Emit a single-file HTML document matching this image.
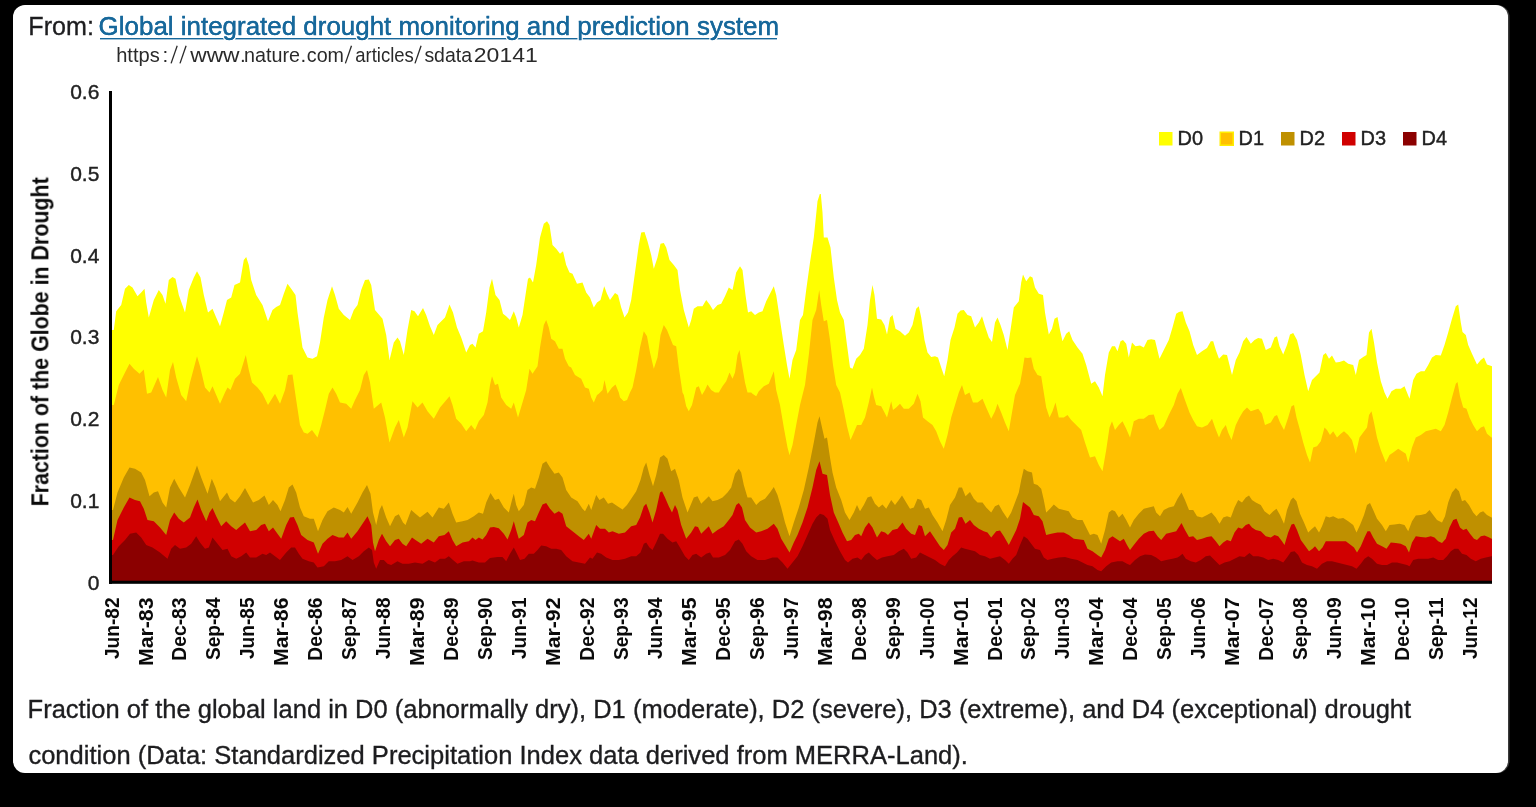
<!DOCTYPE html>
<html><head><meta charset="utf-8"><title>Drought</title>
<style>
html,body{margin:0;padding:0;background:#000;}
body{width:1536px;height:807px;position:relative;overflow:hidden;font-family:"Liberation Sans",sans-serif;}
.card{position:absolute;left:13px;top:5px;width:1494.5px;height:768px;background:#fff;border-radius:12px;box-shadow:1.5px 0 0 #3a3a3a;}
svg{position:absolute;left:0;top:0;will-change:transform;}
text{font-family:"Liberation Sans",sans-serif;}
.t{font-size:26px;fill:#1d1d1f;stroke:#1d1d1f;stroke-width:0.35px;}
.ta{font-size:26px;fill:#17689b;}
.u{font-size:20.5px;fill:#2a2a2a;}
.c{font-size:26px;fill:#1d1d1f;stroke:#1d1d1f;stroke-width:0.35px;}
.xl{font-weight:bold;font-size:20px;fill:#0a0a0a;}
.yl{font-size:21px;fill:#222;stroke:#222;stroke-width:0.4px;}
.lg{font-size:20px;fill:#222;stroke:#222;stroke-width:0.4px;}
.yt{font-weight:bold;font-size:23px;fill:#0a0a0a;}
</style></head><body>
<div class="card"></div>
<svg width="1536" height="807" viewBox="0 0 1536 807">
<text x="28.3" y="34.6" textLength="65.6" lengthAdjust="spacingAndGlyphs" class="t">From:</text>
<rect x="100" y="38" width="677" height="1.4" fill="#17689b"/>
<text x="98.6" y="34.6" textLength="680.5" lengthAdjust="spacingAndGlyphs" class="ta" style="paint-order:stroke fill;stroke:#fff;stroke-width:3px;stroke-linejoin:round">Global integrated drought monitoring and prediction system</text>
<text x="98.6" y="34.6" textLength="680.5" lengthAdjust="spacingAndGlyphs" class="ta" style="stroke:#17689b;stroke-width:0.35px">Global integrated drought monitoring and prediction system</text>
<text x="116.2" y="61.5" class="u" textLength="43.6" lengthAdjust="spacingAndGlyphs">https</text><text x="162.6" y="61.5" class="u">:</text><text x="190.2" y="61.5" class="u" textLength="49.4" lengthAdjust="spacingAndGlyphs">www</text><text x="240.0" y="61.5" class="u">.</text><text x="244.0" y="61.5" class="u" textLength="56" lengthAdjust="spacingAndGlyphs">nature</text><text x="300.4" y="61.5" class="u">.</text><text x="306.8" y="61.5" class="u" textLength="37.2" lengthAdjust="spacingAndGlyphs">com</text><text x="355.2" y="61.5" class="u" textLength="58.6" lengthAdjust="spacingAndGlyphs">articles</text><text x="424.4" y="61.5" class="u" textLength="47.6" lengthAdjust="spacingAndGlyphs">sdata</text><text x="473.8" y="61.5" class="u" textLength="64" lengthAdjust="spacingAndGlyphs">20141</text><line x1="171.10000000000002" y1="63.4" x2="177.20000000000002" y2="45.8" stroke="#2a2a2a" stroke-width="1.3"/><line x1="180.0" y1="63.4" x2="186.1" y2="45.8" stroke="#2a2a2a" stroke-width="1.3"/><line x1="345.40000000000003" y1="63.4" x2="351.5" y2="45.8" stroke="#2a2a2a" stroke-width="1.3"/><line x1="415.0" y1="63.4" x2="421.09999999999997" y2="45.8" stroke="#2a2a2a" stroke-width="1.3"/>
<g style="filter:blur(0.5px)">
<path d="M112.0,582.0 L112.0,330.0 L113.8,330.0 L116.2,311.2 L121.2,305.0 L125.0,288.8 L128.8,285.0 L132.5,287.5 L137.5,296.2 L141.2,292.5 L144.5,288.8 L146.2,302.5 L148.8,317.5 L153.8,300.0 L158.8,290.0 L162.5,295.0 L165.5,303.8 L168.8,280.0 L172.5,277.0 L175.5,278.8 L178.8,295.0 L185.0,312.5 L188.8,290.0 L193.8,277.5 L197.0,271.2 L200.5,277.5 L203.8,295.0 L208.0,312.5 L212.5,308.8 L216.2,317.5 L220.0,326.2 L223.8,312.5 L227.0,300.0 L231.2,297.5 L234.5,285.0 L240.0,282.5 L243.8,260.0 L246.2,257.0 L248.8,265.0 L251.2,280.0 L256.2,295.0 L262.5,305.0 L268.0,321.2 L272.5,310.0 L276.2,307.0 L280.0,305.0 L283.8,293.8 L287.5,283.8 L291.2,288.8 L295.5,295.0 L297.5,312.5 L300.0,330.0 L302.5,347.5 L307.5,357.5 L312.5,358.8 L317.0,356.2 L320.0,342.5 L323.8,317.5 L327.5,300.0 L332.0,286.2 L335.0,295.0 L338.8,308.8 L343.8,315.0 L350.0,320.0 L353.8,310.0 L357.5,305.0 L361.2,290.0 L365.0,280.0 L368.8,279.5 L371.2,285.0 L375.0,310.0 L382.5,318.8 L386.2,335.0 L389.5,360.0 L393.8,342.5 L397.5,337.5 L400.0,341.2 L403.8,355.0 L407.5,330.0 L411.2,310.0 L414.5,311.2 L418.0,316.2 L423.0,308.0 L426.2,315.0 L430.0,326.2 L433.8,335.0 L437.5,325.0 L445.0,317.5 L449.5,304.5 L453.0,312.5 L457.0,327.5 L461.2,337.5 L466.2,352.5 L470.0,345.0 L472.5,343.8 L475.5,347.5 L478.8,333.8 L483.0,331.2 L486.2,312.5 L489.5,287.5 L492.0,278.8 L495.5,295.0 L499.5,300.0 L503.0,313.8 L506.2,316.2 L510.0,320.0 L513.8,311.2 L516.2,317.5 L518.8,327.5 L522.5,315.0 L525.5,295.0 L528.0,278.8 L530.0,277.5 L533.0,282.5 L536.2,265.0 L540.0,237.5 L543.8,223.8 L547.0,221.2 L549.5,225.0 L552.5,245.0 L556.2,248.8 L560.0,253.8 L563.0,251.2 L566.2,265.0 L569.5,272.5 L572.5,273.8 L577.0,283.8 L582.5,282.5 L586.2,292.5 L590.0,297.5 L593.8,307.5 L597.0,302.5 L600.5,300.0 L604.2,286.2 L607.0,293.8 L610.0,300.0 L615.0,293.0 L618.0,295.0 L621.2,307.5 L624.5,317.5 L628.0,312.5 L631.2,300.0 L635.0,272.5 L638.8,245.0 L641.2,232.5 L644.5,232.0 L647.5,241.2 L651.2,255.0 L653.8,268.8 L657.5,257.5 L660.5,243.8 L663.8,243.0 L666.2,247.5 L669.5,260.0 L673.8,265.0 L677.5,270.0 L680.0,290.0 L683.8,310.0 L688.8,327.5 L691.2,320.0 L693.8,308.8 L697.5,306.2 L702.5,306.2 L706.2,300.0 L710.0,305.0 L713.0,310.0 L717.5,305.0 L721.2,303.8 L725.0,296.2 L728.8,287.5 L732.5,290.0 L736.2,272.5 L740.0,266.2 L742.5,270.0 L745.5,295.0 L748.0,312.5 L751.2,311.2 L755.0,315.0 L758.8,312.5 L762.5,311.2 L766.2,301.2 L770.0,293.8 L773.8,286.2 L776.2,295.0 L780.0,320.0 L783.8,345.0 L787.0,365.0 L789.5,378.8 L792.5,360.0 L796.2,350.0 L800.0,320.0 L803.0,315.0 L806.2,290.0 L810.0,262.5 L813.8,237.5 L817.5,201.2 L819.8,194.0 L820.8,194.0 L822.5,212.5 L823.8,237.5 L827.5,237.5 L830.5,247.5 L833.8,277.5 L837.0,300.0 L840.0,312.5 L843.8,320.0 L847.0,345.0 L850.0,367.5 L852.5,368.8 L856.2,358.8 L860.0,355.0 L863.8,348.8 L867.5,325.0 L870.0,300.0 L872.5,285.0 L874.5,295.0 L877.0,318.8 L881.2,319.5 L884.5,325.0 L887.0,334.5 L890.0,317.5 L892.5,315.0 L895.5,328.8 L900.0,331.2 L905.0,335.8 L908.8,332.5 L912.5,325.0 L916.2,308.8 L918.8,306.2 L921.2,317.5 L924.5,340.0 L927.5,352.5 L931.2,357.0 L935.0,356.2 L938.0,357.5 L941.2,367.5 L944.2,376.2 L947.5,360.0 L950.5,340.0 L954.5,327.5 L957.5,313.8 L960.5,310.5 L963.8,310.0 L967.5,315.0 L971.2,316.2 L975.0,327.5 L978.8,322.5 L982.0,316.2 L985.0,326.2 L988.8,337.5 L992.0,342.0 L995.0,322.5 L997.5,317.5 L1000.5,325.0 L1003.8,335.0 L1007.5,350.0 L1010.5,330.0 L1013.8,307.5 L1018.8,301.2 L1021.2,282.5 L1023.0,274.5 L1026.2,281.2 L1030.0,276.2 L1032.5,277.5 L1035.0,287.5 L1038.8,293.8 L1043.0,295.0 L1045.0,312.5 L1048.8,334.5 L1052.0,328.8 L1054.5,318.8 L1057.5,317.0 L1060.0,330.0 L1062.5,341.2 L1066.2,333.8 L1069.2,331.2 L1072.5,340.0 L1077.5,347.5 L1082.5,353.8 L1086.2,365.0 L1091.2,383.8 L1095.0,381.2 L1098.8,387.5 L1102.5,396.2 L1105.0,375.0 L1108.8,352.5 L1112.0,346.2 L1115.0,346.2 L1117.5,351.2 L1120.5,341.2 L1123.0,340.0 L1126.2,343.8 L1128.8,357.5 L1132.0,342.5 L1135.5,346.2 L1140.0,345.5 L1143.8,347.5 L1147.5,340.0 L1151.2,339.2 L1155.0,340.0 L1159.5,358.8 L1163.8,350.0 L1168.8,340.0 L1172.5,327.5 L1176.2,313.8 L1179.0,312.0 L1182.5,311.2 L1185.8,322.5 L1189.5,331.2 L1193.2,345.0 L1197.0,355.0 L1202.0,351.2 L1207.0,348.0 L1210.8,341.2 L1213.2,341.2 L1215.8,350.0 L1219.0,358.8 L1223.2,354.5 L1227.0,355.0 L1229.5,365.0 L1232.0,375.0 L1235.8,360.0 L1239.5,352.5 L1243.2,341.2 L1246.5,337.0 L1250.8,343.8 L1254.5,340.0 L1258.2,338.0 L1262.0,338.8 L1265.8,350.0 L1270.8,347.5 L1274.5,337.5 L1277.0,336.2 L1279.5,346.2 L1283.2,354.5 L1287.0,345.0 L1290.0,334.5 L1293.2,333.0 L1297.0,340.0 L1300.8,355.0 L1304.5,375.0 L1308.2,391.2 L1312.0,380.0 L1315.8,376.2 L1319.5,372.5 L1323.2,355.0 L1325.8,353.0 L1329.0,358.8 L1332.0,355.5 L1335.8,362.5 L1339.5,362.0 L1344.0,360.5 L1348.2,363.8 L1353.2,365.0 L1355.8,375.0 L1359.0,360.0 L1363.2,357.0 L1366.5,355.0 L1369.0,332.5 L1371.5,328.8 L1374.0,342.5 L1377.0,362.5 L1380.8,381.2 L1384.5,392.5 L1387.5,398.8 L1391.5,391.2 L1395.8,388.8 L1400.8,388.8 L1404.5,386.2 L1407.0,392.5 L1409.5,398.8 L1413.2,380.0 L1416.5,373.8 L1420.8,371.2 L1424.5,371.2 L1428.2,365.0 L1432.0,357.5 L1435.8,355.0 L1440.8,355.5 L1444.5,345.0 L1448.2,332.5 L1452.0,318.8 L1455.8,306.2 L1458.2,304.5 L1460.8,322.5 L1462.5,332.0 L1465.8,335.0 L1468.2,345.0 L1472.0,353.8 L1477.0,364.5 L1480.8,360.0 L1484.0,357.5 L1487.0,364.5 L1492.0,366.2 L1492.0,366.2 L1492.0,582.0 Z" fill="#ffff00"/>
<path d="M112.0,582.0 L112.0,405.0 L113.8,405.0 L118.8,385.0 L125.0,372.5 L129.5,363.8 L133.8,368.8 L139.5,373.8 L143.8,369.5 L147.0,393.8 L151.2,392.5 L158.0,377.0 L162.5,390.0 L166.2,397.5 L170.0,370.0 L173.0,362.0 L176.2,377.5 L181.2,395.0 L186.2,401.2 L190.0,382.5 L197.0,356.2 L200.0,366.2 L205.0,387.5 L209.5,392.5 L212.5,386.2 L216.2,395.0 L220.0,403.8 L225.0,392.5 L227.5,387.5 L230.5,390.0 L235.0,378.8 L240.0,373.8 L245.8,355.0 L248.8,370.0 L252.0,382.5 L257.5,387.5 L262.5,393.8 L268.0,405.0 L275.0,393.8 L280.0,403.8 L285.0,390.0 L288.0,375.0 L292.5,374.5 L296.2,400.0 L300.0,425.0 L303.8,432.5 L307.5,433.8 L312.0,430.0 L317.5,437.5 L321.2,425.0 L325.0,410.0 L328.8,393.8 L332.5,387.5 L336.2,393.8 L340.0,402.5 L346.2,403.8 L351.2,408.8 L355.0,400.0 L360.0,390.0 L363.8,375.0 L367.0,370.0 L370.0,382.5 L373.8,408.8 L381.2,402.5 L385.0,417.5 L389.5,442.5 L395.0,427.5 L398.8,420.0 L403.8,437.5 L407.5,427.5 L412.5,401.2 L417.5,407.5 L422.5,402.5 L427.5,411.2 L433.8,418.8 L440.0,407.5 L449.5,396.2 L452.5,405.0 L456.2,418.8 L461.2,423.8 L466.2,431.2 L471.2,425.0 L475.0,430.0 L478.8,421.2 L483.8,415.0 L487.5,402.5 L490.0,385.0 L492.0,376.2 L495.0,385.0 L498.0,383.8 L501.2,397.5 L506.2,405.0 L511.2,408.8 L513.8,402.5 L518.0,417.5 L522.5,402.5 L526.2,390.0 L529.5,368.8 L532.5,373.8 L537.5,366.2 L540.0,347.5 L543.8,325.0 L546.2,320.0 L548.8,327.5 L551.2,338.8 L555.0,341.2 L558.8,348.8 L562.5,348.8 L565.0,358.8 L568.8,366.2 L571.2,367.5 L575.0,375.0 L581.2,378.8 L585.0,387.5 L588.8,388.8 L591.2,397.5 L593.8,402.5 L597.0,395.0 L598.8,393.8 L602.5,390.0 L604.5,380.0 L607.5,393.8 L612.0,387.5 L615.5,384.5 L618.8,392.5 L620.0,397.5 L623.8,401.2 L627.0,400.0 L630.0,392.5 L632.5,387.5 L636.2,370.0 L640.0,347.5 L643.8,331.2 L647.0,336.2 L650.0,352.5 L653.8,368.8 L657.5,357.5 L660.5,335.0 L663.8,325.0 L667.0,330.0 L670.0,337.5 L673.0,345.0 L676.2,346.2 L678.8,367.5 L682.5,392.5 L683.8,395.0 L686.2,406.2 L688.8,411.2 L692.0,405.0 L696.2,387.5 L698.8,386.2 L702.0,395.0 L705.0,390.0 L707.5,384.5 L711.2,390.0 L715.0,392.5 L718.8,392.5 L722.5,386.2 L726.2,381.2 L729.5,372.5 L732.5,378.8 L735.0,372.5 L737.5,355.0 L739.5,350.0 L742.0,365.0 L745.0,382.5 L747.5,392.5 L751.2,392.5 L752.5,393.8 L756.2,396.2 L758.8,391.2 L763.8,386.2 L768.8,383.8 L773.8,371.2 L776.2,390.0 L780.0,405.0 L783.8,427.5 L787.5,447.5 L789.5,455.0 L792.5,445.0 L796.2,425.0 L800.0,405.0 L805.0,385.0 L808.8,355.0 L812.5,320.0 L816.2,310.0 L819.2,290.0 L821.2,305.0 L823.8,321.2 L827.0,320.0 L830.0,340.0 L833.0,365.0 L836.2,385.0 L840.0,392.5 L843.8,410.0 L847.0,426.2 L850.5,440.0 L853.8,432.5 L857.0,425.0 L861.2,425.0 L865.0,417.5 L868.8,402.5 L872.0,387.5 L873.8,396.2 L876.2,405.0 L881.2,406.2 L884.5,412.5 L887.0,417.5 L891.2,401.2 L893.0,410.0 L896.2,407.5 L900.0,403.8 L903.8,408.8 L908.8,408.8 L913.8,403.8 L917.5,393.8 L920.5,401.2 L923.0,417.5 L927.5,421.2 L932.5,425.0 L936.2,431.2 L940.0,441.2 L943.8,448.8 L947.5,435.0 L951.2,417.5 L955.0,405.0 L958.8,392.5 L962.0,385.0 L965.0,395.0 L969.5,392.5 L973.0,402.5 L977.5,402.5 L982.5,398.8 L986.2,407.5 L991.2,418.8 L995.0,411.2 L997.5,403.8 L1001.2,412.5 L1005.0,422.5 L1008.8,431.2 L1012.0,412.5 L1015.0,395.0 L1018.8,386.2 L1020.0,383.8 L1022.5,370.0 L1024.5,357.5 L1027.5,358.0 L1031.2,357.5 L1033.8,368.8 L1037.5,375.0 L1041.2,376.2 L1043.8,392.5 L1046.2,407.5 L1049.5,417.5 L1052.5,411.2 L1055.5,402.5 L1058.8,417.5 L1063.8,417.5 L1067.5,415.0 L1071.2,420.0 L1076.2,425.0 L1081.2,430.0 L1085.0,442.5 L1090.0,457.5 L1095.0,456.2 L1098.8,465.0 L1102.5,471.2 L1106.2,450.0 L1109.5,427.5 L1112.0,421.2 L1115.0,430.0 L1118.8,425.0 L1122.5,421.2 L1126.2,428.8 L1130.0,437.5 L1133.8,421.2 L1138.8,418.8 L1143.8,418.8 L1148.8,415.0 L1153.8,414.5 L1156.2,422.5 L1159.5,430.0 L1163.8,426.2 L1168.8,415.0 L1173.8,405.0 L1177.5,393.8 L1180.8,388.0 L1184.5,398.8 L1189.5,412.5 L1193.2,420.0 L1197.0,426.2 L1202.0,427.5 L1207.5,425.0 L1212.0,418.8 L1215.0,427.5 L1219.0,437.5 L1222.0,430.0 L1225.8,425.0 L1228.2,432.5 L1231.5,440.0 L1235.8,425.0 L1239.5,417.5 L1243.2,411.2 L1247.0,407.5 L1250.8,411.2 L1254.5,410.0 L1258.2,408.8 L1262.0,413.8 L1265.0,425.0 L1270.8,422.5 L1274.5,416.2 L1277.0,415.0 L1280.0,422.5 L1284.0,430.0 L1288.2,417.5 L1291.5,406.2 L1294.0,405.0 L1296.5,417.5 L1300.0,430.0 L1303.2,442.5 L1307.0,455.0 L1310.0,462.5 L1313.2,447.5 L1317.0,446.2 L1320.8,441.2 L1324.5,427.5 L1327.0,430.0 L1330.0,435.0 L1333.2,431.2 L1337.0,437.5 L1340.8,433.8 L1344.0,431.2 L1348.2,435.0 L1352.0,440.0 L1355.8,453.8 L1359.5,437.5 L1363.2,432.5 L1367.0,427.5 L1369.0,415.0 L1371.5,411.2 L1374.0,422.5 L1377.0,437.5 L1380.8,450.0 L1385.8,462.5 L1389.5,455.0 L1393.2,452.5 L1398.2,448.8 L1402.0,451.2 L1405.8,453.8 L1408.2,462.5 L1412.0,447.5 L1415.8,437.5 L1420.8,435.0 L1425.8,431.2 L1430.8,430.0 L1435.8,428.8 L1440.8,431.2 L1444.5,425.0 L1448.2,412.5 L1452.0,397.5 L1455.8,383.8 L1457.5,382.0 L1460.0,396.2 L1463.2,407.5 L1466.5,408.8 L1469.5,417.5 L1473.2,425.0 L1477.0,431.2 L1480.8,427.5 L1484.0,426.2 L1487.0,433.8 L1491.5,437.5 L1492.0,437.5 L1492.0,582.0 Z" fill="#ffc000"/>
<path d="M112.0,582.0 L112.0,510.0 L113.0,510.0 L117.5,492.5 L123.8,477.5 L129.5,467.5 L135.0,468.8 L141.2,472.5 L145.0,480.0 L149.5,496.2 L153.8,492.5 L158.0,491.2 L162.5,502.5 L166.2,507.5 L170.0,487.5 L174.2,478.8 L178.8,487.5 L185.0,497.5 L190.0,485.0 L197.0,465.5 L201.2,477.5 L207.5,493.8 L211.8,478.8 L215.5,487.5 L220.0,501.2 L227.0,492.5 L230.0,498.8 L235.0,502.5 L240.0,496.2 L245.0,488.0 L248.8,495.0 L253.0,502.5 L258.8,500.0 L264.5,495.5 L268.8,505.0 L273.0,500.0 L277.5,505.0 L280.5,511.2 L285.0,500.0 L288.8,487.5 L292.5,484.5 L296.2,492.5 L300.0,507.5 L303.8,516.2 L310.0,518.8 L313.8,518.8 L318.0,531.2 L322.5,520.0 L327.5,511.2 L333.8,507.5 L340.0,510.0 L343.8,512.5 L347.5,507.0 L351.2,513.8 L357.5,502.5 L362.5,492.5 L367.0,485.0 L370.5,493.8 L373.0,512.5 L376.2,525.0 L379.5,510.0 L382.0,505.0 L386.2,517.5 L390.0,526.2 L395.0,516.2 L398.8,514.2 L403.0,522.5 L405.5,525.0 L411.2,510.0 L415.5,513.8 L420.0,517.5 L427.5,511.8 L432.5,517.5 L438.8,507.5 L443.8,508.8 L448.8,502.5 L452.5,513.8 L456.2,522.5 L462.5,521.2 L467.5,520.0 L473.8,516.2 L478.8,512.5 L483.0,513.8 L486.2,502.5 L490.5,493.0 L495.0,500.0 L498.8,498.8 L503.8,507.5 L508.8,512.5 L512.0,500.0 L513.8,493.8 L516.2,505.0 L518.8,511.2 L523.8,505.0 L527.5,490.0 L531.2,487.5 L535.0,488.8 L538.8,477.5 L542.5,463.8 L546.2,461.2 L550.0,467.5 L554.5,473.8 L558.8,472.5 L562.5,477.5 L566.2,490.0 L571.2,497.5 L577.5,501.2 L582.5,508.8 L585.0,511.2 L588.8,503.8 L591.2,510.0 L596.2,495.0 L599.5,500.0 L603.8,497.5 L608.0,503.8 L612.0,502.5 L617.5,506.2 L622.5,509.5 L627.0,505.0 L631.2,498.8 L636.2,491.2 L640.5,480.0 L643.8,467.5 L646.2,462.5 L649.5,475.0 L653.0,486.2 L656.2,475.0 L660.0,457.5 L663.8,455.0 L667.5,458.8 L671.2,471.2 L675.0,468.8 L678.8,480.0 L682.5,497.5 L687.5,512.5 L691.2,503.8 L693.8,497.5 L697.5,496.2 L701.2,503.8 L705.0,500.0 L708.8,496.2 L712.5,501.2 L717.5,500.0 L722.5,497.5 L727.5,492.5 L731.2,487.5 L735.0,473.8 L738.8,468.8 L741.2,472.5 L743.8,485.0 L747.5,497.5 L751.2,497.5 L756.2,505.0 L760.0,501.2 L765.0,498.8 L770.0,492.5 L773.8,487.0 L777.5,495.0 L781.2,507.5 L785.0,522.5 L789.5,536.2 L793.8,522.5 L798.8,507.5 L803.8,490.0 L808.8,467.5 L813.8,442.5 L817.5,422.5 L819.5,416.2 L822.0,427.5 L824.5,438.8 L827.0,437.5 L830.0,457.5 L832.5,472.5 L836.2,487.5 L841.2,500.0 L845.0,512.5 L849.5,520.0 L853.8,512.5 L857.0,505.0 L860.0,511.2 L863.8,505.0 L867.5,497.5 L871.2,496.2 L875.0,503.8 L878.8,507.5 L882.5,504.5 L886.2,508.8 L891.2,500.0 L895.0,505.0 L898.8,500.0 L902.0,495.5 L906.2,502.5 L910.0,508.8 L913.8,507.5 L917.5,498.8 L921.2,500.0 L925.0,508.8 L928.8,507.5 L932.5,515.0 L937.5,522.5 L942.5,531.2 L946.2,520.0 L950.0,505.0 L955.0,497.5 L958.8,487.5 L962.0,487.5 L965.5,496.2 L970.0,492.0 L973.8,498.8 L977.5,502.5 L982.5,502.5 L986.2,507.5 L991.2,512.5 L995.0,506.2 L998.8,504.5 L1002.5,511.2 L1007.5,518.8 L1011.2,512.5 L1015.0,502.5 L1018.8,492.5 L1021.2,480.0 L1023.8,468.8 L1027.5,471.2 L1032.0,472.5 L1033.8,483.8 L1037.5,485.0 L1041.2,488.8 L1043.8,500.0 L1046.2,512.5 L1050.0,508.8 L1053.8,504.5 L1058.8,508.8 L1063.8,510.0 L1068.8,511.2 L1072.5,517.5 L1077.5,520.0 L1082.5,520.0 L1086.2,527.5 L1090.0,535.0 L1093.8,533.8 L1097.5,535.0 L1101.2,543.8 L1105.0,530.0 L1108.8,512.5 L1112.0,510.0 L1115.0,511.2 L1118.8,517.5 L1122.5,513.8 L1126.2,520.0 L1130.0,527.5 L1133.8,520.0 L1138.8,513.8 L1143.8,508.8 L1148.8,507.5 L1153.8,506.2 L1156.2,512.5 L1160.0,516.2 L1163.8,510.0 L1168.8,507.5 L1173.8,506.2 L1177.5,498.8 L1181.5,492.5 L1185.0,500.0 L1189.0,510.0 L1193.2,510.0 L1197.0,516.2 L1202.0,517.5 L1207.0,515.0 L1211.5,512.5 L1215.8,517.5 L1219.5,523.8 L1223.2,517.5 L1227.0,516.2 L1230.8,517.5 L1234.5,507.5 L1238.2,500.0 L1242.0,502.5 L1245.8,497.5 L1249.0,495.5 L1252.0,500.0 L1255.8,502.5 L1260.8,505.0 L1264.5,511.2 L1269.5,515.0 L1273.2,511.2 L1276.5,508.8 L1280.0,515.0 L1284.0,523.8 L1287.0,510.0 L1290.8,500.0 L1293.2,497.5 L1296.5,501.2 L1300.0,513.8 L1304.0,522.5 L1308.2,532.5 L1312.0,528.8 L1315.0,526.2 L1319.0,532.5 L1322.0,526.2 L1325.8,516.2 L1329.5,517.5 L1333.2,516.2 L1338.2,518.8 L1343.2,518.0 L1348.2,521.2 L1353.2,525.0 L1356.5,532.5 L1360.0,525.0 L1364.0,515.0 L1367.0,505.0 L1370.0,503.0 L1373.2,510.0 L1377.0,518.8 L1382.0,525.0 L1385.8,531.2 L1389.5,525.0 L1394.5,524.5 L1399.5,523.8 L1404.5,525.0 L1408.2,531.2 L1412.0,521.2 L1415.8,515.5 L1420.8,515.0 L1425.8,513.8 L1429.5,510.0 L1433.2,515.0 L1437.0,520.0 L1442.0,522.5 L1445.0,516.2 L1448.2,502.5 L1452.0,492.5 L1455.8,488.0 L1459.0,491.2 L1462.0,501.2 L1465.0,500.0 L1469.0,505.0 L1473.2,512.5 L1476.5,516.2 L1480.0,512.5 L1483.2,511.2 L1487.0,515.0 L1491.5,517.5 L1492.0,517.5 L1492.0,582.0 Z" fill="#bf9000"/>
<path d="M112.0,582.0 L112.0,540.0 L113.0,540.0 L117.5,520.0 L123.8,507.5 L129.5,497.5 L135.0,500.0 L140.0,501.2 L143.8,508.8 L147.5,520.0 L153.8,521.2 L160.0,527.5 L166.2,535.0 L170.0,520.0 L174.2,512.5 L178.8,518.8 L183.8,522.5 L190.0,517.5 L193.8,507.5 L197.5,499.5 L201.2,510.0 L206.2,521.2 L209.5,512.5 L212.5,508.0 L216.2,516.2 L221.2,526.2 L226.2,521.2 L231.2,526.2 L236.2,530.0 L240.5,526.2 L245.0,522.5 L250.0,531.2 L256.2,530.0 L261.2,525.0 L265.0,523.8 L268.8,531.2 L273.0,527.5 L277.5,533.8 L281.2,538.8 L286.2,525.0 L290.0,517.5 L293.8,517.0 L297.5,525.0 L301.2,535.0 L307.5,540.0 L313.8,542.5 L318.0,553.8 L322.5,543.8 L327.5,538.8 L332.5,535.0 L338.8,537.5 L343.8,537.5 L347.5,532.5 L351.2,538.8 L357.5,531.2 L362.5,523.8 L367.5,516.2 L371.2,525.0 L373.0,542.5 L375.0,551.2 L378.8,540.0 L382.0,533.8 L386.2,541.2 L390.0,546.2 L395.0,540.0 L398.8,538.8 L402.5,543.8 L406.2,546.2 L412.0,537.5 L415.5,540.0 L421.2,543.8 L427.5,538.8 L433.8,542.5 L438.8,536.2 L444.5,535.0 L448.8,531.2 L452.5,540.0 L456.2,546.2 L462.5,542.5 L468.8,541.2 L472.5,537.5 L475.5,540.0 L478.8,537.5 L482.5,539.5 L486.2,535.0 L490.0,527.5 L493.8,527.0 L498.8,528.2 L503.8,533.8 L507.5,539.5 L511.2,530.0 L513.8,521.2 L516.2,530.0 L518.8,538.8 L523.8,535.0 L527.5,522.5 L531.2,520.0 L535.0,521.2 L538.8,512.5 L542.5,504.5 L546.2,503.0 L550.0,508.8 L554.5,513.8 L558.8,511.2 L562.5,513.8 L566.2,526.2 L572.5,531.2 L578.8,536.2 L583.8,540.0 L588.8,533.8 L591.2,538.8 L596.2,525.0 L600.0,528.8 L605.0,528.8 L608.8,532.5 L612.5,531.2 L618.8,533.8 L625.0,532.5 L631.2,526.2 L636.2,525.0 L640.0,517.5 L643.8,506.2 L646.2,503.8 L649.5,512.5 L652.5,522.5 L656.2,510.0 L660.0,492.5 L662.0,491.2 L665.0,497.5 L668.8,506.2 L672.0,512.5 L675.0,505.0 L677.5,510.0 L681.2,525.0 L686.2,538.8 L691.2,532.5 L695.0,526.2 L698.0,527.0 L701.2,533.8 L705.0,530.0 L708.8,526.2 L712.5,533.8 L717.5,530.0 L723.8,526.2 L728.8,520.0 L732.5,515.0 L736.2,505.0 L738.8,503.0 L742.0,507.5 L745.0,520.0 L750.0,527.5 L756.2,532.5 L761.2,531.2 L767.5,528.8 L773.8,523.8 L777.5,528.8 L781.2,538.8 L785.0,545.0 L789.5,552.5 L793.8,542.5 L797.5,535.0 L802.5,522.5 L807.5,507.5 L812.5,487.5 L816.2,470.0 L819.5,461.2 L822.5,473.8 L827.0,475.0 L830.0,495.0 L833.8,512.5 L838.8,523.8 L842.5,532.5 L847.0,541.2 L851.2,540.0 L855.0,535.0 L858.8,533.8 L861.2,536.2 L865.0,527.5 L868.8,522.5 L872.5,527.5 L877.0,537.5 L881.2,531.2 L885.0,532.5 L888.0,535.0 L892.5,530.0 L897.5,528.8 L902.5,522.5 L906.2,528.8 L911.2,533.8 L915.0,535.0 L918.8,525.0 L922.0,526.2 L925.0,536.2 L930.0,531.2 L935.0,538.8 L940.0,546.2 L943.8,550.0 L947.5,545.0 L951.2,532.5 L955.0,528.8 L958.8,517.5 L962.0,517.0 L965.5,523.8 L970.0,520.0 L973.8,525.0 L978.8,528.8 L983.8,531.2 L987.5,532.5 L991.2,537.5 L996.2,531.2 L1000.0,530.5 L1003.8,536.2 L1008.8,545.0 L1012.5,537.5 L1016.2,530.0 L1020.0,518.8 L1023.0,502.0 L1026.2,504.5 L1030.0,507.5 L1033.8,515.0 L1038.8,516.2 L1042.5,521.2 L1046.2,535.0 L1051.2,533.8 L1057.5,532.5 L1063.8,532.5 L1068.8,535.0 L1073.8,538.8 L1080.0,539.5 L1083.8,540.0 L1087.5,548.8 L1092.5,551.2 L1097.5,555.0 L1101.2,557.5 L1105.0,550.0 L1108.8,538.8 L1112.5,536.2 L1116.2,538.8 L1120.0,541.2 L1123.8,538.8 L1127.0,545.0 L1130.0,550.0 L1133.8,545.0 L1138.8,538.8 L1143.8,533.8 L1148.8,531.2 L1153.8,530.8 L1157.5,536.2 L1161.2,540.0 L1166.2,533.8 L1171.2,532.5 L1176.2,531.2 L1181.5,523.0 L1185.0,530.0 L1189.0,537.0 L1193.2,536.2 L1197.0,540.0 L1202.0,538.8 L1207.0,537.0 L1211.5,536.2 L1215.8,541.2 L1219.5,546.2 L1223.2,542.5 L1227.0,540.0 L1230.8,541.2 L1234.5,532.5 L1238.2,527.5 L1242.0,528.8 L1245.8,525.0 L1249.0,523.8 L1252.0,527.5 L1255.8,530.0 L1260.8,531.2 L1265.8,536.2 L1270.8,537.5 L1274.5,535.0 L1278.2,536.2 L1282.0,541.2 L1284.5,545.0 L1288.2,532.5 L1291.5,524.5 L1294.0,523.8 L1297.0,530.0 L1300.8,540.0 L1304.5,545.0 L1309.0,551.2 L1312.5,548.8 L1315.0,546.2 L1319.0,551.2 L1322.5,547.5 L1325.8,541.2 L1330.8,541.2 L1335.8,541.2 L1340.8,541.2 L1345.8,541.2 L1350.8,545.0 L1354.0,547.5 L1357.0,552.5 L1360.8,546.2 L1364.5,537.5 L1367.5,531.2 L1370.0,531.2 L1373.2,537.5 L1377.0,543.8 L1382.0,546.2 L1386.5,548.8 L1390.8,542.5 L1395.8,543.0 L1400.8,543.8 L1405.8,546.2 L1409.0,552.5 L1412.0,542.5 L1415.8,536.2 L1420.8,537.0 L1425.8,537.5 L1430.8,536.2 L1434.5,537.5 L1438.2,541.2 L1442.0,543.0 L1445.8,538.8 L1449.5,527.5 L1453.2,520.0 L1456.5,518.8 L1460.0,527.5 L1463.2,530.0 L1466.5,528.8 L1470.0,533.8 L1474.0,538.8 L1477.0,540.0 L1480.8,536.2 L1484.5,535.5 L1488.2,537.0 L1491.5,538.8 L1492.0,538.8 L1492.0,582.0 Z" fill="#d00000"/>
<path d="M112.0,582.0 L112.0,555.0 L113.0,555.0 L118.8,546.2 L125.0,540.0 L130.0,533.8 L136.2,532.5 L141.2,537.5 L146.2,545.0 L152.5,547.5 L160.0,552.5 L167.5,558.8 L171.2,548.8 L175.0,545.0 L180.0,548.8 L186.2,547.5 L191.2,543.8 L196.2,536.2 L200.0,542.5 L205.0,548.8 L208.8,547.5 L212.5,537.5 L217.5,543.8 L222.5,550.0 L227.5,548.8 L231.2,556.2 L236.2,558.8 L241.2,556.2 L246.2,552.5 L250.0,557.5 L256.2,557.5 L262.5,553.8 L266.2,555.0 L270.0,552.5 L275.0,556.2 L280.0,560.0 L286.2,552.5 L291.2,547.5 L295.0,547.5 L298.8,553.8 L302.5,558.8 L308.8,561.2 L313.8,562.5 L317.5,567.5 L323.8,566.2 L328.8,561.2 L335.0,561.2 L341.2,560.0 L347.5,556.2 L352.5,560.0 L358.8,556.2 L363.8,551.2 L368.8,547.5 L372.0,550.0 L373.8,562.5 L376.2,568.8 L380.0,560.0 L383.8,560.0 L387.5,563.8 L391.2,565.0 L397.5,561.2 L402.5,563.8 L408.8,563.8 L415.0,562.5 L422.5,563.8 L428.8,560.0 L435.0,562.5 L440.0,558.8 L445.0,558.8 L448.8,556.2 L453.0,560.0 L457.5,563.8 L463.8,561.2 L470.0,561.2 L472.5,560.5 L478.8,562.5 L485.0,562.5 L490.0,558.0 L497.5,557.0 L502.5,557.0 L506.2,561.2 L510.0,553.8 L513.8,547.5 L517.0,553.8 L520.0,560.0 L524.5,558.8 L528.8,553.8 L533.8,553.8 L537.5,550.0 L541.2,545.5 L546.2,546.2 L551.2,548.8 L556.2,548.8 L561.2,550.0 L566.2,556.2 L572.5,561.2 L578.8,562.5 L585.0,563.8 L590.0,557.5 L592.5,558.8 L597.0,552.5 L601.2,553.8 L606.2,557.5 L612.5,560.0 L618.8,560.0 L625.0,558.8 L631.2,556.2 L636.2,556.2 L640.5,552.5 L643.8,543.8 L646.2,542.5 L649.5,547.5 L652.5,550.0 L656.2,542.5 L660.0,533.8 L663.0,533.8 L667.5,538.8 L672.5,542.5 L676.2,541.2 L680.0,547.5 L685.0,556.2 L688.8,560.0 L692.5,555.0 L696.2,553.8 L701.2,557.5 L706.2,553.8 L710.0,552.5 L713.0,557.5 L718.8,557.5 L725.0,555.0 L730.0,550.0 L735.0,541.2 L738.8,539.5 L742.5,543.8 L746.2,551.2 L751.2,556.2 L757.5,560.0 L765.0,560.0 L772.5,557.5 L777.5,557.5 L782.5,562.5 L787.5,568.8 L792.5,562.5 L797.5,556.2 L802.5,546.2 L807.5,535.0 L812.5,523.8 L816.2,517.5 L820.0,513.8 L823.8,515.0 L827.5,518.8 L830.0,530.0 L835.0,541.2 L840.0,551.2 L845.0,560.0 L848.0,562.5 L852.5,558.8 L857.5,557.5 L861.2,560.0 L865.0,555.0 L868.8,552.5 L872.5,556.2 L877.0,560.0 L882.0,557.5 L887.5,556.2 L893.8,555.0 L898.8,551.2 L903.8,548.8 L907.5,552.5 L911.2,558.8 L916.2,557.5 L920.0,552.5 L925.0,555.0 L930.0,557.5 L935.0,560.0 L940.0,563.8 L945.0,566.2 L948.8,560.0 L952.5,556.2 L957.0,552.5 L961.2,547.5 L965.0,548.8 L970.0,550.0 L975.0,551.2 L980.0,555.0 L985.0,556.2 L990.0,558.8 L995.0,557.5 L1000.0,556.2 L1005.0,560.0 L1008.8,563.8 L1012.5,558.8 L1016.2,555.0 L1020.0,545.0 L1023.8,536.2 L1027.5,538.8 L1031.2,543.8 L1035.0,548.8 L1040.0,550.0 L1043.8,557.5 L1047.5,560.0 L1052.5,558.8 L1058.8,557.5 L1065.0,557.0 L1071.2,558.8 L1077.5,560.0 L1082.5,562.5 L1087.5,565.0 L1092.5,566.2 L1097.5,570.0 L1101.2,571.2 L1106.2,566.2 L1111.2,562.5 L1117.5,561.2 L1122.5,561.2 L1127.0,563.8 L1130.0,565.0 L1135.0,560.0 L1140.0,556.2 L1145.0,554.5 L1151.2,555.0 L1156.2,557.5 L1161.2,561.2 L1166.2,560.0 L1172.5,558.8 L1177.5,557.5 L1179.5,556.2 L1182.5,553.8 L1185.8,558.8 L1190.8,561.2 L1195.8,562.5 L1200.8,560.0 L1205.8,556.2 L1210.0,555.5 L1214.5,560.0 L1219.5,565.0 L1224.5,562.5 L1229.5,561.2 L1234.5,558.8 L1239.5,556.2 L1244.5,557.0 L1249.5,553.0 L1253.2,556.2 L1258.2,556.2 L1263.2,557.5 L1268.2,560.0 L1273.2,558.8 L1278.2,560.0 L1283.2,562.5 L1287.0,557.5 L1290.8,552.0 L1294.5,551.2 L1298.2,555.0 L1302.0,562.5 L1307.0,565.0 L1312.0,566.2 L1317.0,568.8 L1322.0,563.8 L1327.0,561.2 L1332.0,561.2 L1337.0,562.5 L1342.0,563.8 L1347.0,565.0 L1352.0,566.2 L1356.5,568.8 L1360.8,563.8 L1364.5,558.8 L1368.2,556.2 L1372.0,558.8 L1377.0,563.8 L1382.0,565.0 L1387.0,565.0 L1392.0,562.5 L1397.0,562.5 L1402.0,563.8 L1407.0,565.0 L1409.5,566.2 L1413.2,560.0 L1418.2,558.8 L1423.2,558.8 L1428.2,558.8 L1433.2,557.5 L1438.2,560.0 L1443.2,560.0 L1447.0,556.2 L1450.8,551.2 L1454.5,548.8 L1458.2,548.8 L1462.0,553.8 L1466.5,555.0 L1470.8,558.8 L1475.8,561.2 L1480.8,558.8 L1485.8,557.5 L1491.5,556.2 L1492.0,556.2 L1492.0,582.0 Z" fill="#8b0000"/>
<rect x="109" y="91" width="3" height="492.8" fill="#000"/>
<rect x="109" y="580.7" width="1383" height="3.1" fill="#000"/>
<text x="99.4" y="590.0" text-anchor="end" class="yl">0</text>
<text x="99.4" y="508.1" text-anchor="end" class="yl">0.1</text>
<text x="99.4" y="426.3" text-anchor="end" class="yl">0.2</text>
<text x="99.4" y="344.4" text-anchor="end" class="yl">0.3</text>
<text x="99.4" y="262.5" text-anchor="end" class="yl">0.4</text>
<text x="99.4" y="180.7" text-anchor="end" class="yl">0.5</text>
<text x="99.4" y="98.8" text-anchor="end" class="yl">0.6</text>
<text transform="translate(118.5,597.5) rotate(-90)" text-anchor="end" textLength="61.5" lengthAdjust="spacingAndGlyphs" class="xl">Jun-82</text>
<text transform="translate(152.5,597.5) rotate(-90)" text-anchor="end" textLength="68.5" lengthAdjust="spacingAndGlyphs" class="xl">Mar-83</text>
<text transform="translate(186.4,597.5) rotate(-90)" text-anchor="end" textLength="63.2" lengthAdjust="spacingAndGlyphs" class="xl">Dec-83</text>
<text transform="translate(220.4,597.5) rotate(-90)" text-anchor="end" textLength="62.6" lengthAdjust="spacingAndGlyphs" class="xl">Sep-84</text>
<text transform="translate(254.3,597.5) rotate(-90)" text-anchor="end" textLength="61.5" lengthAdjust="spacingAndGlyphs" class="xl">Jun-85</text>
<text transform="translate(288.3,597.5) rotate(-90)" text-anchor="end" textLength="68.5" lengthAdjust="spacingAndGlyphs" class="xl">Mar-86</text>
<text transform="translate(322.3,597.5) rotate(-90)" text-anchor="end" textLength="63.2" lengthAdjust="spacingAndGlyphs" class="xl">Dec-86</text>
<text transform="translate(356.2,597.5) rotate(-90)" text-anchor="end" textLength="62.6" lengthAdjust="spacingAndGlyphs" class="xl">Sep-87</text>
<text transform="translate(390.2,597.5) rotate(-90)" text-anchor="end" textLength="61.5" lengthAdjust="spacingAndGlyphs" class="xl">Jun-88</text>
<text transform="translate(424.1,597.5) rotate(-90)" text-anchor="end" textLength="68.5" lengthAdjust="spacingAndGlyphs" class="xl">Mar-89</text>
<text transform="translate(458.1,597.5) rotate(-90)" text-anchor="end" textLength="63.2" lengthAdjust="spacingAndGlyphs" class="xl">Dec-89</text>
<text transform="translate(492.1,597.5) rotate(-90)" text-anchor="end" textLength="62.6" lengthAdjust="spacingAndGlyphs" class="xl">Sep-90</text>
<text transform="translate(526.0,597.5) rotate(-90)" text-anchor="end" textLength="61.5" lengthAdjust="spacingAndGlyphs" class="xl">Jun-91</text>
<text transform="translate(560.0,597.5) rotate(-90)" text-anchor="end" textLength="68.5" lengthAdjust="spacingAndGlyphs" class="xl">Mar-92</text>
<text transform="translate(593.9,597.5) rotate(-90)" text-anchor="end" textLength="63.2" lengthAdjust="spacingAndGlyphs" class="xl">Dec-92</text>
<text transform="translate(627.9,597.5) rotate(-90)" text-anchor="end" textLength="62.6" lengthAdjust="spacingAndGlyphs" class="xl">Sep-93</text>
<text transform="translate(661.9,597.5) rotate(-90)" text-anchor="end" textLength="61.5" lengthAdjust="spacingAndGlyphs" class="xl">Jun-94</text>
<text transform="translate(695.8,597.5) rotate(-90)" text-anchor="end" textLength="68.5" lengthAdjust="spacingAndGlyphs" class="xl">Mar-95</text>
<text transform="translate(729.8,597.5) rotate(-90)" text-anchor="end" textLength="63.2" lengthAdjust="spacingAndGlyphs" class="xl">Dec-95</text>
<text transform="translate(763.7,597.5) rotate(-90)" text-anchor="end" textLength="62.6" lengthAdjust="spacingAndGlyphs" class="xl">Sep-96</text>
<text transform="translate(797.7,597.5) rotate(-90)" text-anchor="end" textLength="61.5" lengthAdjust="spacingAndGlyphs" class="xl">Jun-97</text>
<text transform="translate(831.7,597.5) rotate(-90)" text-anchor="end" textLength="68.5" lengthAdjust="spacingAndGlyphs" class="xl">Mar-98</text>
<text transform="translate(865.6,597.5) rotate(-90)" text-anchor="end" textLength="63.2" lengthAdjust="spacingAndGlyphs" class="xl">Dec-98</text>
<text transform="translate(899.6,597.5) rotate(-90)" text-anchor="end" textLength="62.6" lengthAdjust="spacingAndGlyphs" class="xl">Sep-99</text>
<text transform="translate(933.5,597.5) rotate(-90)" text-anchor="end" textLength="61.5" lengthAdjust="spacingAndGlyphs" class="xl">Jun-00</text>
<text transform="translate(967.5,597.5) rotate(-90)" text-anchor="end" textLength="68.5" lengthAdjust="spacingAndGlyphs" class="xl">Mar-01</text>
<text transform="translate(1001.5,597.5) rotate(-90)" text-anchor="end" textLength="63.2" lengthAdjust="spacingAndGlyphs" class="xl">Dec-01</text>
<text transform="translate(1035.4,597.5) rotate(-90)" text-anchor="end" textLength="62.6" lengthAdjust="spacingAndGlyphs" class="xl">Sep-02</text>
<text transform="translate(1069.4,597.5) rotate(-90)" text-anchor="end" textLength="61.5" lengthAdjust="spacingAndGlyphs" class="xl">Jun-03</text>
<text transform="translate(1103.3,597.5) rotate(-90)" text-anchor="end" textLength="68.5" lengthAdjust="spacingAndGlyphs" class="xl">Mar-04</text>
<text transform="translate(1137.3,597.5) rotate(-90)" text-anchor="end" textLength="63.2" lengthAdjust="spacingAndGlyphs" class="xl">Dec-04</text>
<text transform="translate(1171.3,597.5) rotate(-90)" text-anchor="end" textLength="62.6" lengthAdjust="spacingAndGlyphs" class="xl">Sep-05</text>
<text transform="translate(1205.2,597.5) rotate(-90)" text-anchor="end" textLength="61.5" lengthAdjust="spacingAndGlyphs" class="xl">Jun-06</text>
<text transform="translate(1239.2,597.5) rotate(-90)" text-anchor="end" textLength="68.5" lengthAdjust="spacingAndGlyphs" class="xl">Mar-07</text>
<text transform="translate(1273.1,597.5) rotate(-90)" text-anchor="end" textLength="63.2" lengthAdjust="spacingAndGlyphs" class="xl">Dec-07</text>
<text transform="translate(1307.1,597.5) rotate(-90)" text-anchor="end" textLength="62.6" lengthAdjust="spacingAndGlyphs" class="xl">Sep-08</text>
<text transform="translate(1341.1,597.5) rotate(-90)" text-anchor="end" textLength="61.5" lengthAdjust="spacingAndGlyphs" class="xl">Jun-09</text>
<text transform="translate(1375.0,597.5) rotate(-90)" text-anchor="end" textLength="68.5" lengthAdjust="spacingAndGlyphs" class="xl">Mar-10</text>
<text transform="translate(1409.0,597.5) rotate(-90)" text-anchor="end" textLength="63.2" lengthAdjust="spacingAndGlyphs" class="xl">Dec-10</text>
<text transform="translate(1442.9,597.5) rotate(-90)" text-anchor="end" textLength="62.6" lengthAdjust="spacingAndGlyphs" class="xl">Sep-11</text>
<text transform="translate(1476.9,597.5) rotate(-90)" text-anchor="end" textLength="61.5" lengthAdjust="spacingAndGlyphs" class="xl">Jun-12</text>
<rect x="1159" y="132" width="13.5" height="13.5" fill="#ffff00"/><text x="1177.6" y="145.2" textLength="25.5" lengthAdjust="spacingAndGlyphs" class="lg">D0</text>
<rect x="1219.5" y="131.5" width="14.5" height="14.5" fill="#ffee00"/><rect x="1221" y="133" width="11.5" height="11.5" fill="#ffc000"/><text x="1238.6" y="145.2" textLength="25.5" lengthAdjust="spacingAndGlyphs" class="lg">D1</text>
<rect x="1281" y="132" width="13.5" height="13.5" fill="#bf9000"/><text x="1299.6" y="145.2" textLength="25.5" lengthAdjust="spacingAndGlyphs" class="lg">D2</text>
<rect x="1342" y="132" width="13.5" height="13.5" fill="#d00000"/><text x="1360.6" y="145.2" textLength="25.5" lengthAdjust="spacingAndGlyphs" class="lg">D3</text>
<rect x="1403" y="132" width="13.5" height="13.5" fill="#8b0000"/><text x="1421.6" y="145.2" textLength="25.5" lengthAdjust="spacingAndGlyphs" class="lg">D4</text>

<text transform="translate(48.4,341.8) rotate(-90)" text-anchor="middle" textLength="329" lengthAdjust="spacingAndGlyphs" class="yt">Fraction of the Globe in Drought</text>
</g>
<text x="27.6" y="717.8" textLength="1383.5" lengthAdjust="spacingAndGlyphs" class="c">Fraction of the global land in D0 (abnormally dry), D1 (moderate), D2 (severe), D3 (extreme), and D4 (exceptional) drought</text>
<text x="28.4" y="764.2" textLength="939.5" lengthAdjust="spacingAndGlyphs" class="c">condition (Data: Standardized Precipitation Index data derived from MERRA-Land).</text>
</svg>
</body></html>
